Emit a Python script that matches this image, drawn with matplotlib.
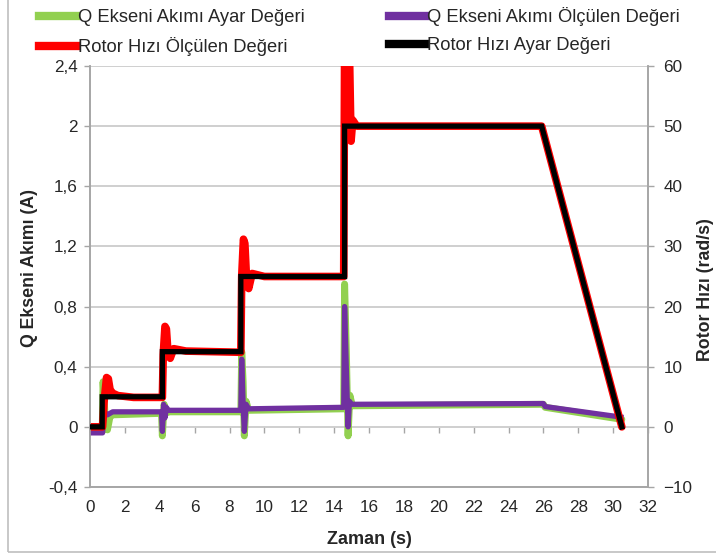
import matplotlib
matplotlib.use("Agg")
import matplotlib.pyplot as plt
from matplotlib.patches import Rectangle
from matplotlib.lines import Line2D

plt.rcParams['font.family'] = ['Liberation Sans', 'DejaVu Sans']

# ---------------- data ----------------
# Rotor speed setpoint (rad/s)
t_w_ref = [0, 0.7, 0.7, 4.15, 4.15, 8.65, 8.65, 14.6, 14.6, 25.9, 30.5]
w_ref = [0, 0, 5, 5, 12.5, 12.5, 25, 25, 50, 50, 0]

# Rotor speed measured (rad/s)
t_w_meas = [0, 0.72, 0.8, 0.95, 1.05, 1.15, 1.3, 1.6, 2.5, 4.15, 4.2, 4.3, 4.38,
            4.48, 4.6, 4.8, 5.5, 8.65, 8.7, 8.8, 8.88, 8.98, 9.1, 9.3, 10.0,
            14.55, 14.6, 14.88, 14.97, 15.07, 15.3, 25.9, 30.5]
w_meas = [0, 0, 4, 8.2, 8.0, 6.2, 5.6, 5.2, 4.9, 4.9, 12, 16.7, 16.3,
          12.0, 11.4, 13.0, 12.6, 12.4, 25, 31.2, 30.5, 24.5, 23.0, 25.5, 25.0,
          25.0, 62, 62, 47.5, 51.0, 50.0, 50.0, 0]

# Q-axis current setpoint (A)
t_iq_ref = [0, 0.7, 0.75, 0.85, 1.0, 1.15, 1.3, 4.1, 4.15, 4.25, 4.35, 4.5,
            8.65, 8.7, 8.78, 8.85, 8.95, 9.1, 14.55, 14.6, 14.7, 14.8, 14.9,
            15.05, 26.0, 26.1, 30.5]
iq_ref = [-0.03, -0.03, 0.3, 0.1, -0.02, 0.07, 0.08, 0.09, -0.06, 0.15, 0.09, 0.1,
          0.1, 0.5, 0.3, -0.06, 0.17, 0.11, 0.12, 0.95, 0.5, -0.06, 0.21,
          0.14, 0.15, 0.13, 0.05]

# Q-axis current measured (A)
t_iq_meas = [0, 0.72, 0.8, 0.9, 1.0, 1.3, 4.1, 4.15, 4.22, 4.3, 4.38, 4.5,
             8.65, 8.7, 8.78, 8.85, 8.95, 9.1, 14.55, 14.6, 14.72, 14.8, 14.88,
             15.0, 26.0, 26.1, 30.45]
iq_meas = [-0.04, -0.04, 0.06, 0.09, 0.08, 0.1, 0.1, -0.03, 0.15, 0.06, 0.13, 0.11,
           0.11, 0.45, 0.15, -0.03, 0.15, 0.12, 0.13, 0.8, 0.3, 0.0, 0.17,
           0.15, 0.155, 0.135, 0.065]

labels = ["Q Ekseni Akımı Ayar Değeri", "Q Ekseni Akımı Ölçülen Değeri",
          "Rotor Hızı Ölçülen Değeri", "Rotor Hızı Ayar Değeri"]
x_ticks = list(range(0, 33, 2))
left_ticks = [-0.4, 0, 0.4, 0.8, 1.2, 1.6, 2.0, 2.4]
left_tick_labels = ["-0,4", "0", "0,4", "0,8", "1,2", "1,6", "2", "2,4"]
right_ticks = [-10, 0, 10, 20, 30, 40, 50, 60]

# ---------------- styling ----------------
c_green = '#92d050'
c_purple = '#7030a0'
c_red = '#ff0000'
c_black = '#000000'
grid_c = '#cccccc'
spine_c = '#a6a6a6'
txt_c = '#262626'

fig = plt.figure(figsize=(7.16, 5.55), dpi=100)
ax = fig.add_axes([90/716, 68/555, 558/716, 421/555])
ax2 = ax.twinx()

ax.plot(t_iq_ref, iq_ref, color=c_green, lw=5, solid_capstyle='round', solid_joinstyle='round', zorder=2)
ax.plot(t_iq_meas, iq_meas, color=c_purple, lw=3.8, solid_joinstyle='round', zorder=3)
ax2.plot(t_w_meas, w_meas, color=c_red, lw=5.5, solid_joinstyle='round', solid_capstyle='round', zorder=2)
ax2.plot(t_w_ref, w_ref, color=c_black, lw=3.8, solid_joinstyle='miter', zorder=3)

ax.set_xlim(0, 32)
ax.set_ylim(-0.4, 2.4)
ax2.set_ylim(-10, 60)

ax.set_xticks(x_ticks)
ax.set_yticks(left_ticks)
ax.set_yticklabels(left_tick_labels)
ax2.set_yticks(right_ticks)

ax.yaxis.grid(True, color=grid_c, lw=1.3)
ax.set_axisbelow(True)

for a in (ax, ax2):
    for s in a.spines.values():
        s.set_color(spine_c)
        s.set_linewidth(1.2)
    a.spines['top'].set_visible(False)

ax.tick_params(axis='x', length=0, pad=9, labelsize=12.3, colors=txt_c)
ax.tick_params(axis='y', length=4, width=1, color=spine_c, pad=5, labelsize=12.3, labelcolor=txt_c)
ax2.tick_params(axis='y', length=4, width=1, color=spine_c, pad=7, labelsize=12.3, labelcolor=txt_c)

# tick marks on the zero line
sec = ax.secondary_xaxis(0.4 / 2.8)
sec.set_xticks(x_ticks)
sec.tick_params(axis='x', length=4, width=1, color=spine_c, labelbottom=False, direction='out')
sec.spines['bottom'].set_visible(False)

ax.set_xlabel("Zaman (s)", fontsize=13, fontweight='bold', color=txt_c)
ax.xaxis.set_label_coords(0.5, -(542 - 489) / 421, transform=ax.transAxes)
ax.xaxis.label.set_va('center')
ax.set_ylabel("Q Ekseni Akımı (A)", fontsize=12.8, fontweight='bold', color=txt_c)
ax.yaxis.set_label_coords(-60/558, 0.52)
ax.yaxis.label.set_va('center')
ax2.set_ylabel("Rotor Hızı (rad/s)", fontsize=12.8, fontweight='bold', color=txt_c, rotation=90)
ax2.yaxis.set_label_coords((706 - 90) / 558, 0.47)
ax2.yaxis.label.set_va('center')

# legend
handles = [Line2D([], [], color=c_green, lw=6),
           Line2D([], [], color=c_purple, lw=6),
           Line2D([], [], color=c_red, lw=6),
           Line2D([], [], color=c_black, lw=6)]
order = [0, 2, 1, 3]
fig.legend([handles[i] for i in order], [labels[i] for i in order],
           loc='upper left', bbox_to_anchor=(39/716, 1 - 7/555), ncol=2, frameon=False,
           fontsize=13.2, handlelength=2.0, handletextpad=0.1,
           columnspacing=4.6, labelspacing=0.6, borderpad=0, borderaxespad=0,
           labelcolor=txt_c)

fig.patches.append(Rectangle((8/716, 3/555), 2, 2, transform=fig.transFigure,
                             fill=False, edgecolor='#bfbfbf', lw=1.2))

fig.savefig("out.png", dpi=100)
